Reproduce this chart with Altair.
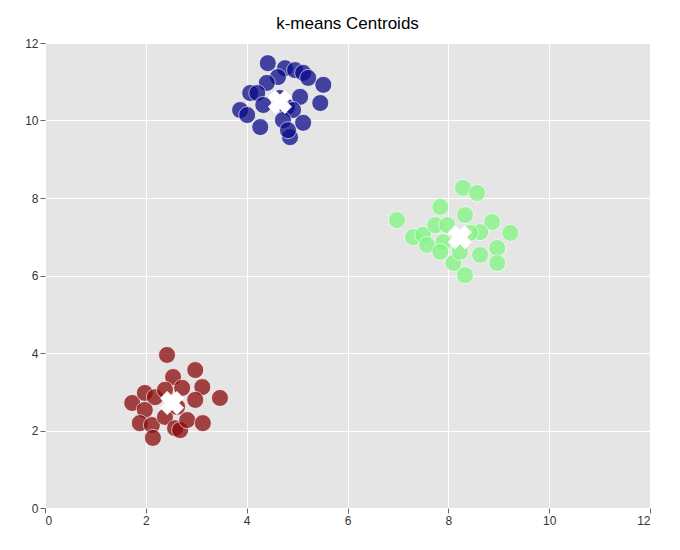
import altair as alt
import pandas as pd

# cluster points
blue_x = [4.42, 4.76, 4.96, 5.12, 5.22, 5.52, 4.62, 4.40, 4.07, 4.21, 3.87, 4.01,
          4.27, 4.33, 4.80, 5.06, 5.46, 4.92, 4.72, 5.12, 4.86, 4.82, 4.66]
blue_y = [11.48, 11.35, 11.30, 11.23, 11.10, 10.92, 11.12, 10.97, 10.71, 10.71, 10.27, 10.14,
          9.83, 10.40, 10.35, 10.61, 10.45, 10.27, 10.01, 9.94, 9.57, 9.75, 10.58]
green_x = [8.29, 8.57, 6.98, 7.84, 8.33, 8.87, 9.23, 7.30, 7.50, 7.74, 7.98, 8.63,
           7.58, 7.90, 7.84, 8.43, 8.63, 8.97, 8.10, 8.33, 8.97, 8.23]
green_y = [8.26, 8.13, 7.43, 7.77, 7.56, 7.38, 7.10, 6.99, 7.05, 7.30, 7.30, 7.12,
           6.79, 6.86, 6.61, 7.10, 6.53, 6.71, 6.32, 6.01, 6.32, 6.61]
red_x = [2.42, 2.98, 2.54, 3.12, 3.47, 1.73, 1.98, 2.18, 2.72, 2.98, 1.98, 1.88,
         2.12, 2.14, 2.38, 2.58, 2.68, 2.82, 3.13, 2.62, 2.38]
red_y = [3.95, 3.56, 3.38, 3.12, 2.84, 2.71, 2.97, 2.86, 3.10, 2.79, 2.53, 2.19,
         2.14, 1.81, 2.35, 2.06, 2.01, 2.27, 2.19, 2.61, 3.05]

centroid_x = [4.66, 8.23, 2.52]
centroid_y = [10.48, 6.99, 2.71]

clusters = ["blue", "green", "red"]
colors = ["#0b0b8a", "#80f580", "#8b0a0a"]

pts = pd.concat([
    pd.DataFrame({"x": blue_x, "y": blue_y, "cluster": "blue"}),
    pd.DataFrame({"x": green_x, "y": green_y, "cluster": "green"}),
    pd.DataFrame({"x": red_x, "y": red_y, "cluster": "red"}),
])
cents = pd.DataFrame({"x": centroid_x, "y": centroid_y})

xs = alt.Scale(domain=[0, 12], nice=False)
ys = alt.Scale(domain=[0, 12], nice=False)
ticks = list(range(0, 13, 2))

points = alt.Chart(pts).mark_circle(size=290, opacity=0.75, stroke="white", strokeWidth=0.8).encode(
    x=alt.X("x:Q", scale=xs, title=None,
            axis=alt.Axis(values=ticks, tickSize=5, tickColor="#666", domain=False,
                          labelColor="#333", labelFontSize=12, gridColor="white")),
    y=alt.Y("y:Q", scale=ys, title=None,
            axis=alt.Axis(values=ticks, tickSize=5, tickColor="#666", domain=False,
                          labelColor="#333", labelFontSize=12, gridColor="white")),
    color=alt.Color("cluster:N", scale=alt.Scale(domain=clusters, range=colors), legend=None),
)

marks = alt.Chart(cents).mark_point(shape="cross", angle=45, filled=True, fill="white",
                                    stroke="white", strokeWidth=1, opacity=1, size=520).encode(
    x=alt.X("x:Q", scale=xs),
    y=alt.Y("y:Q", scale=ys),
)

chart = alt.layer(points, marks).properties(
    width=605, height=465,
    title=alt.TitleParams("k-means Centroids", fontSize=17, fontWeight="normal",
                          font="Liberation Sans", color="black", offset=4),
    autosize=alt.AutoSizeParams(type="none"),
    padding={"left": 37, "top": 35, "right": 20, "bottom": 30},
).configure_view(fill="#e5e5e5", stroke=None).configure_axis(labelFont="Liberation Sans")

chart.save("out.html", embed_options={"renderer": "svg", "actions": False})
